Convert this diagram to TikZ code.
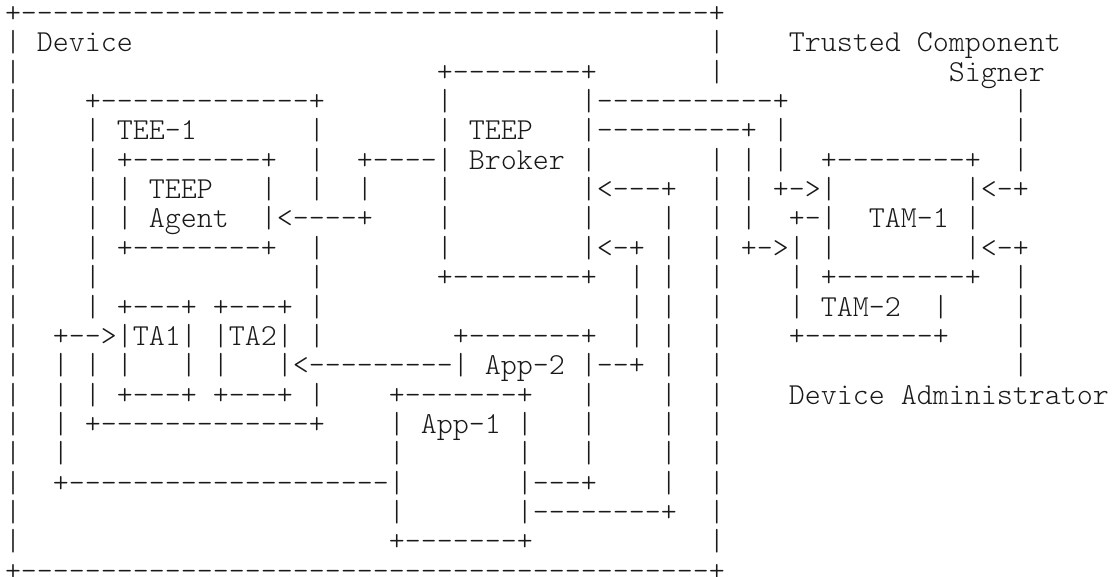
\documentclass[tikz,border=0pt]{standalone}
\usepackage{fontspec}
\setmonofont{Latin Modern Mono Light}
% n blank character cells / n copies of a character
\newcommand\gap[1]{\hskip#1\fontdimen2\font\relax}
\ExplSyntaxOn
\cs_new:Npn \rep #1#2 { \prg_replicate:nn {#1} {#2} }
\ExplSyntaxOff
\tikzset{
  asciirow/.style={anchor=base west, inner sep=0pt, outer sep=0pt,
    font=\ttfamily\fontsize{22.857pt}{22pt}\selectfont, text=black!90},
  ruleline/.style={asciirow, text height=9pt, text depth=0pt}
}
\begin{document}
\begin{tikzpicture}[x=1pt,y=1pt]
\fill[white] (0,0) rectangle (834.75,-432.75);
\path[use as bounding box] (0,0) rectangle (834.75,-432.75);
% one line of the character grid per row, 22pt apart
\node[ruleline] (r0)  at (3.75,-17)  {+\rep{43}{-}+};
\node[asciirow] (r1)  at (3.75,-39)  {|\gap{1}Device\gap{36}|\gap{4}Trusted Component};
\node[asciirow] (r2)  at (3.75,-61)  {|\gap{26}+\rep{8}{-}+\gap{7}|\gap{14}Signer};
\node[asciirow] (r3)  at (3.75,-83)  {|\gap{4}+\rep{13}{-}+\gap{7}|\gap{8}|\rep{11}{-}+\gap{14}|};
\node[asciirow] (r4)  at (3.75,-105) {|\gap{4}|\gap{1}TEE-1\gap{7}|\gap{7}|\gap{1}TEEP\gap{3}|\rep{9}{-}+\gap{1}|\gap{14}|};
\node[asciirow] (r5)  at (3.75,-127) {|\gap{4}|\gap{1}+\rep{8}{-}+\gap{2}|\gap{2}+\rep{4}{-}|\gap{1}Broker\gap{1}|\gap{7}|\gap{1}|\gap{1}|\gap{2}+\rep{8}{-}+\gap{2}|};
\node[asciirow] (r6)  at (3.75,-149) {|\gap{4}|\gap{1}|\gap{1}TEEP\gap{3}|\gap{2}|\gap{2}|\gap{4}|\gap{8}|<\rep{3}{-}+\gap{2}|\gap{1}|\gap{1}+->|\gap{8}|<-+};
\node[asciirow] (r7)  at (3.75,-171) {|\gap{4}|\gap{1}|\gap{1}Agent\gap{2}|<\rep{4}{-}+\gap{4}|\gap{8}|\gap{4}|\gap{2}|\gap{1}|\gap{2}+-|\gap{2}TAM-1\gap{1}|};
\node[asciirow] (r8)  at (3.75,-193) {|\gap{4}|\gap{1}+\rep{8}{-}+\gap{2}|\gap{7}|\gap{8}|<-+\gap{1}|\gap{2}|\gap{1}+->|\gap{1}|\gap{8}|<-+};
\node[asciirow] (r9)  at (3.75,-215) {|\gap{4}|\gap{13}|\gap{7}+\rep{8}{-}+\gap{2}|\gap{1}|\gap{2}|\gap{4}|\gap{1}+\rep{8}{-}+\gap{2}|};
\node[asciirow] (r10) at (3.75,-237) {|\gap{4}|\gap{1}+\rep{3}{-}+\gap{1}+\rep{3}{-}+\gap{1}|\gap{19}|\gap{1}|\gap{2}|\gap{4}|\gap{1}TAM-2\gap{2}|\gap{4}|};
\node[asciirow] (r11) at (3.75,-259) {|\gap{2}+\rep{2}{-}>|TA1|\gap{1}|TA2|\gap{1}|\gap{8}+\rep{7}{-}+\gap{2}|\gap{1}|\gap{2}|\gap{4}+\rep{8}{-}+\gap{4}|};
\node[asciirow] (r12) at (3.75,-281) {|\gap{2}|\gap{1}|\gap{1}|\gap{3}|\gap{1}|\gap{3}|<\rep{9}{-}|\gap{1}App-2\gap{1}|\rep{2}{-}+\gap{1}|\gap{2}|\gap{18}|};
\node[asciirow] (r13) at (3.75,-303) {|\gap{2}|\gap{1}|\gap{1}+\rep{3}{-}+\gap{1}+\rep{3}{-}+\gap{1}|\gap{4}+\rep{7}{-}+\gap{3}|\gap{4}|\gap{2}|\gap{4}Device Administrator};
\node[asciirow] (r14) at (3.75,-325) {|\gap{2}|\gap{1}+\rep{13}{-}+\gap{4}|\gap{1}App-1\gap{1}|\gap{3}|\gap{4}|\gap{2}|};
\node[asciirow] (r15) at (3.75,-347) {|\gap{2}|\gap{20}|\gap{7}|\gap{3}|\gap{4}|\gap{2}|};
\node[asciirow] (r16) at (3.75,-369) {|\gap{2}+\rep{20}{-}|\gap{7}|\rep{3}{-}+\gap{4}|\gap{2}|};
\node[asciirow] (r17) at (3.75,-391) {|\gap{23}|\gap{7}|\rep{8}{-}+\gap{2}|};
\node[asciirow] (r18) at (3.75,-413) {|\gap{23}+\rep{7}{-}+\gap{11}|};
\node[ruleline] (r19) at (3.75,-435) {+\rep{43}{-}+};
\end{tikzpicture}
\end{document}
